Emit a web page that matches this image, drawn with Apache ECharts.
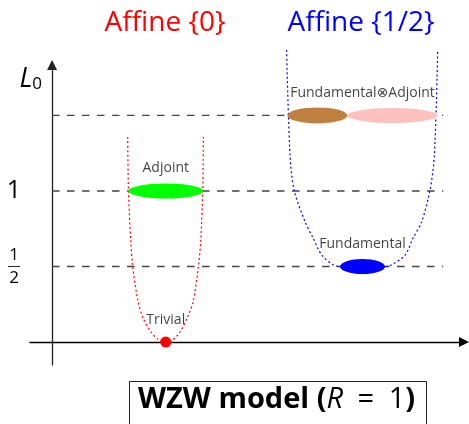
<!DOCTYPE html>
<html><head><meta charset="utf-8">
<script src="https://cdn.jsdelivr.net/npm/echarts@6/dist/echarts.min.js"></script>
<style>html,body{margin:0;padding:0;background:#fff}#c{width:469px;height:424px}</style>
</head><body><div id="c"></div>
<script>
const FONT = "'Open Sans','DejaVu Sans',sans-serif";
// headers
const sectorTitles = ['Affine {0}', 'Affine {1/2}'];
const bottomTitle = ['WZW model (', 'R', '\u2002=\u20021', ')'];
// dashed energy levels
const levelValues = [0.5, 1, 1.5];
const levelLineEnd = 2.59;
// y tick labels
const yTickValues = [0.5, 1];
const yTickLabels = ['1/2', '1'];
// dotted curves
const redCurveX = [0.501, 0.506, 0.521, 0.534, 0.570, 0.603, 0.654, 0.703, 0.753, 0.803, 0.848, 0.894, 0.934, 0.969, 0.985, 0.998, 1.002];
const redCurveY = [1.358, 1.0, 0.675, 0.499, 0.267, 0.159, 0.068, 0.017, 0, 0.017, 0.068, 0.159, 0.267, 0.499, 0.675, 1.0, 1.358];
const blueCurveX = [1.553, 1.576, 1.603, 1.675, 1.728, 1.786, 1.863, 1.907, 2.056, 2.205, 2.246, 2.338, 2.391, 2.448, 2.503, 2.532, 2.554];
const blueCurveY = [1.934, 1.238, 1.007, 0.797, 0.689, 0.576, 0.510, 0.5, 0.5, 0.5, 0.510, 0.576, 0.689, 0.797, 1.007, 1.238, 1.934];
// states
const stateNames = ['Trivial', 'Adjoint', 'Fundamental', 'Fundamental\u2297Adjoint'];
const stateX = [0.753, 0.753, 2.056, 2.056];
const stateY = [0, 1, 0.5, 1.5];
const productX = [1.757, 2.254];
const productY = [1.5, 1.5];

const ELLIPSE = 'path://M0,50 A50,50 0 1,1 100,50 A50,50 0 1,1 0,50 Z';

const zip = (xs, ys) => xs.map((x, i) => [x, ys[i]]);

const levelSeries = levelValues.map(v => ({
  type: 'line', data: [[0, v], [levelLineEnd, v]], symbol: 'none', silent: true, z: 1,
  lineStyle: { color: '#444', width: 1.3, type: [7.5, 7.5] }
}));

const chart = echarts.init(document.getElementById('c'), null, { renderer: 'canvas' });
chart.setOption({
  animation: false,
  backgroundColor: '#fff',
  textStyle: { fontFamily: FONT },
  title: [
    { text: sectorTitles[0], left: 165, top: 6, padding: 0, textAlign: 'center',
      textStyle: { color: '#ff0000', fontSize: 28, fontWeight: 'normal', fontFamily: FONT, lineHeight: 34 } },
    { text: sectorTitles[1], left: 361, top: 6, padding: 0, textAlign: 'center',
      textStyle: { color: '#0000ff', fontSize: 28, fontWeight: 'normal', fontFamily: FONT, lineHeight: 34 } },
    { text: '{b|' + bottomTitle[0] + '}{i|' + bottomTitle[1] + '}{n|' + bottomTitle[2] + '}{b|' + bottomTitle[3] + '}',
      left: 129, top: 379, padding: [4, 12, 20, 9], borderColor: '#222', borderWidth: 1,
      textStyle: { rich: {
        b: { fontFamily: FONT, fontSize: 29, fontWeight: 'bold', color: '#000', lineHeight: 34 },
        i: { fontFamily: FONT, fontSize: 29, fontStyle: 'italic', fontWeight: 'normal', color: '#000', lineHeight: 34 },
        n: { fontFamily: FONT, fontSize: 29, fontWeight: 'normal', color: '#000', lineHeight: 34 }
      } } }
  ],
  grid: { left: 30, right: 5, top: 65, bottom: 59, containLabel: false, outerBoundsMode: 'none' },
  xAxis: {
    type: 'value', min: -0.146, max: 2.728,
    axisLine: { onZero: true, symbol: ['none', 'triangle'], symbolSize: [10, 10], lineStyle: { color: '#000', width: 1.3 } },
    axisTick: { show: false }, axisLabel: { show: false }, splitLine: { show: false }
  },
  yAxis: {
    type: 'value', min: -0.152, max: 1.834,
    name: '{l|L}{s|0}', nameLocation: 'end', nameGap: -13,
    nameTextStyle: { align: 'right', verticalAlign: 'middle', padding: [0, 10, 0, 0],
      rich: {
        l: { fontFamily: FONT, fontSize: 27, fontStyle: 'italic', color: '#000', verticalAlign: 'bottom', lineHeight: 30 },
        s: { fontFamily: FONT, fontSize: 17, color: '#000', verticalAlign: 'bottom', lineHeight: 26 }
      } },
    axisLine: { onZero: true, symbol: ['none', 'triangle'], symbolSize: [10, 10], lineStyle: { color: '#222', width: 1.3 } },
    axisTick: { show: false }, splitLine: { show: false },
    axisLabel: {
      customValues: yTickValues, margin: 16, align: 'center', verticalAlign: 'middle',
      formatter: v => {
        const t = yTickLabels[yTickValues.indexOf(v)];
        if (t && t.indexOf('/') > 0) {
          const p = t.split('/');
          return '{n|' + p[0] + '}\n{bar|}\n{n|' + p[1] + '}';
        }
        return '{one|' + t + '}';
      },
      rich: {
        one: { fontFamily: FONT, fontSize: 25, color: '#000' },
        n: { fontFamily: FONT, fontSize: 17, color: '#000', lineHeight: 13, align: 'center' },
        bar: { width: 12, height: 0, borderColor: '#000', borderWidth: 0.6, lineHeight: 10, align: 'center' }
      }
    }
  },
  series: [
    ...levelSeries,
    { type: 'line', data: zip(redCurveX, redCurveY), symbol: 'none', smooth: 0.3, silent: true, z: 2, clip: false,
      lineStyle: { color: '#ff0000', width: 1.2, type: [2, 2.5] } },
    { type: 'line', data: zip(blueCurveX, blueCurveY), symbol: 'none', smooth: 0.3, silent: true, z: 2, clip: false,
      lineStyle: { color: '#0000ff', width: 1.2, type: [2, 2.5] } },
    { type: 'scatter', z: 3, silent: true, itemStyle: { opacity: 1 },
      data: [
        { value: [stateX[0], stateY[0]], symbol: 'circle', symbolSize: 11, itemStyle: { color: '#ff0000', opacity: 1 } },
        { value: [stateX[1], stateY[1]], symbol: ELLIPSE, symbolSize: [75, 15], itemStyle: { color: '#00ff00', opacity: 1 } },
        { value: [stateX[2], stateY[2]], symbol: ELLIPSE, symbolSize: [45, 15], itemStyle: { color: '#0000ff', opacity: 1 } },
        { value: [productX[0], productY[0]], symbol: ELLIPSE, symbolSize: [60, 16], itemStyle: { color: '#c08040', opacity: 1 } },
        { value: [productX[1], productY[1]], symbol: ELLIPSE, symbolSize: [90, 15], itemStyle: { color: '#ffc0c0', opacity: 1 } }
      ] },
    { type: 'scatter', z: 4, silent: true, symbolSize: 1, itemStyle: { color: 'rgba(0,0,0,0)' },
      data: stateNames.map((n, i) => ({ name: n, value: [stateX[i], stateY[i]] })),
      label: { show: true, position: 'top', distance: 14, formatter: p => p.name,
        fontFamily: FONT, fontSize: 14, color: '#111', lineHeight: 16 } }
  ]
});
</script></body></html>
